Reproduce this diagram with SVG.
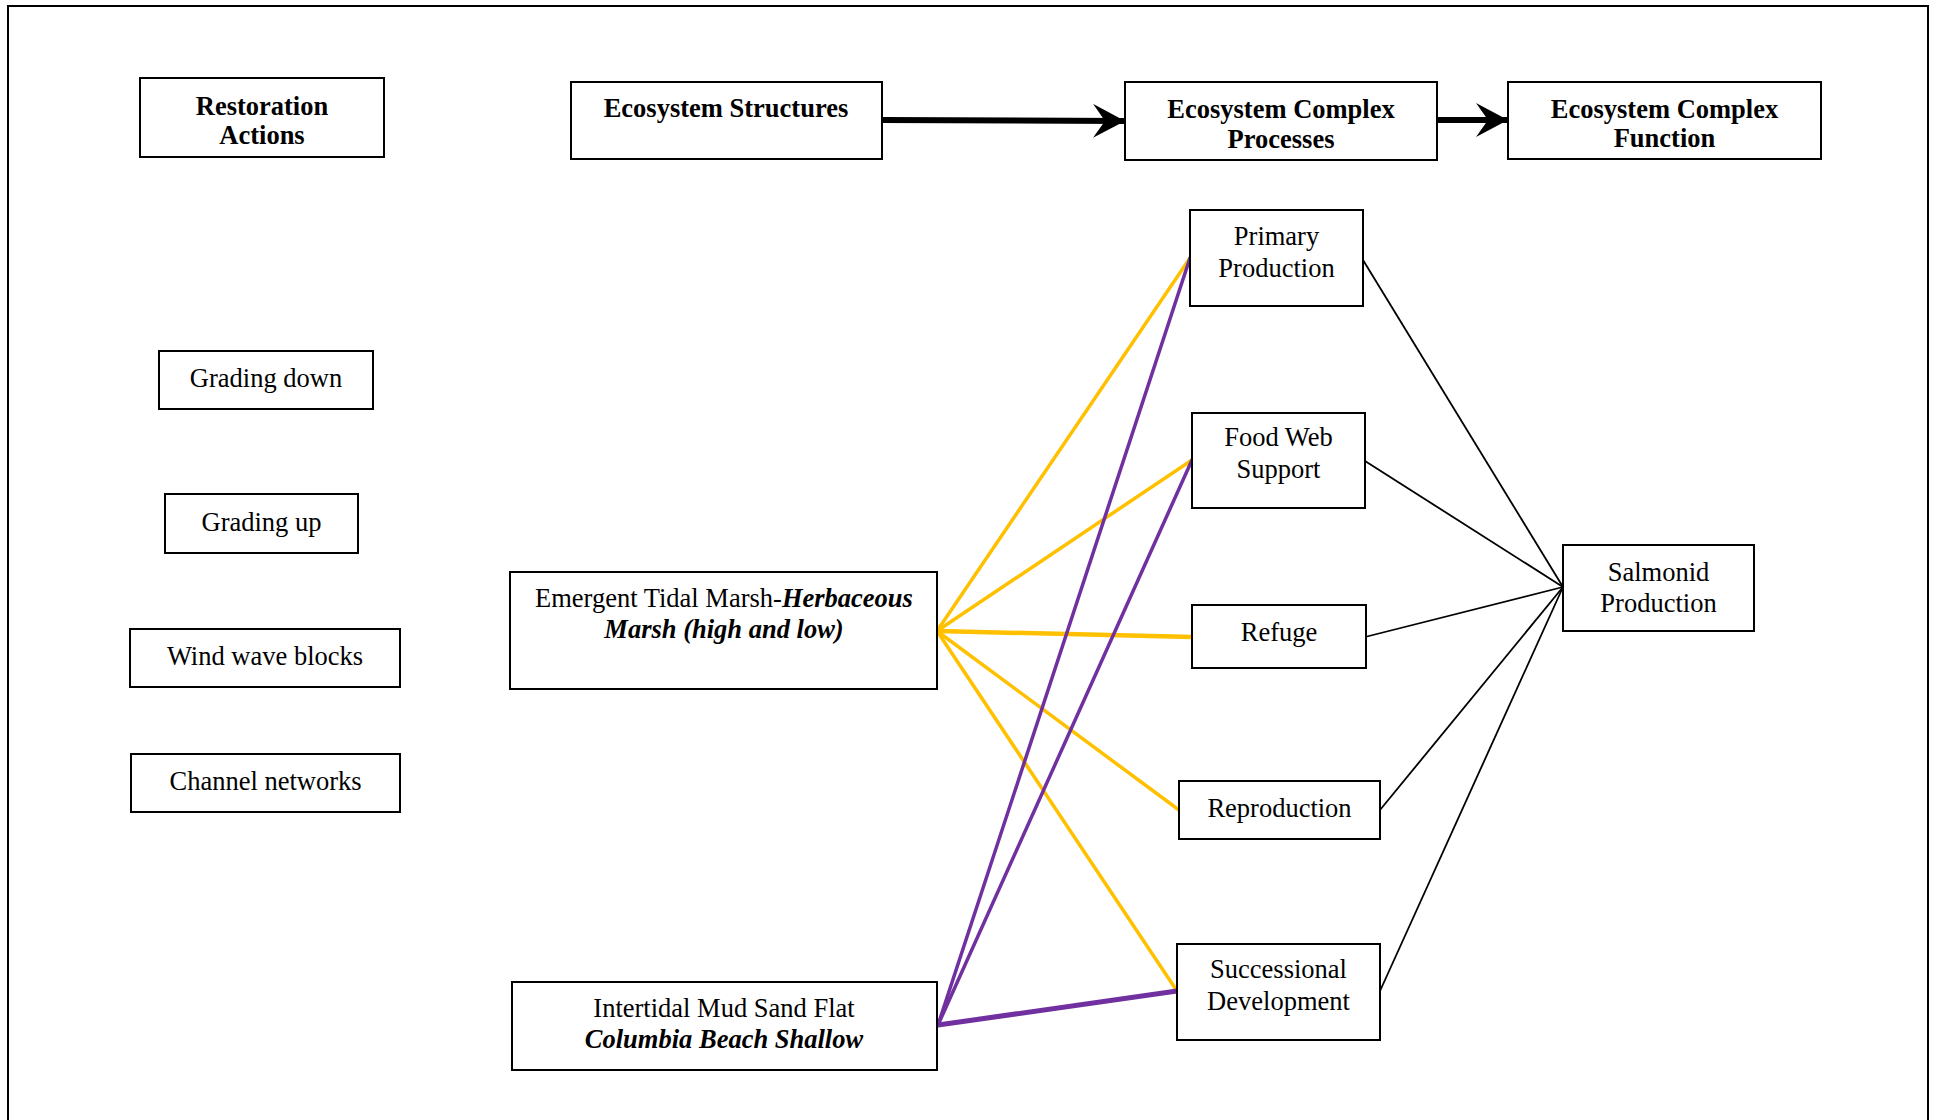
<svg xmlns="http://www.w3.org/2000/svg" width="1937" height="1120" viewBox="0 0 1937 1120">
<style>
  .box { fill: #ffffff; stroke: #000000; stroke-width: 2; }
  .t { font-family: "Liberation Serif", "Times New Roman", serif; font-size: 26.5px; fill: #000000; text-anchor: middle; }
  .b { font-weight: bold; }
  .bi { font-weight: bold; font-style: italic; }
  .yel { stroke: #FFC000; fill: none; stroke-linecap: round; }
  .pur { stroke: #7030A0; fill: none; stroke-linecap: round; }
  .blk { stroke: #000000; stroke-width: 1.8; fill: none; }
  .thick { stroke: #000000; stroke-width: 6; fill: none; }
</style>
<defs>
  <marker id="arrow" markerUnits="userSpaceOnUse" markerWidth="34" markerHeight="36" refX="32" refY="17" orient="auto" viewBox="0 0 34 36">
    <path d="M0,0 L32,17 L0,34 L12,17 Z" fill="#000000"/>
  </marker>
</defs>
<rect x="0" y="0" width="1937" height="1120" fill="#ffffff"/>
<rect x="8" y="6" width="1920" height="1130" fill="none" stroke="#000000" stroke-width="2"/>

<g id="connectors">
  <line class="thick" x1="882" y1="120" x2="1125" y2="121" marker-end="url(#arrow)"/>
  <line class="thick" x1="1437" y1="120" x2="1508" y2="120" marker-end="url(#arrow)"/>
  <line class="yel" stroke-width="3.5" x1="937" y1="631" x2="1190" y2="258"/>
  <line class="yel" stroke-width="3.5" x1="937" y1="631" x2="1192" y2="460"/>
  <line class="yel" stroke-width="4.5" x1="937" y1="631" x2="1192" y2="637"/>
  <line class="yel" stroke-width="3.5" x1="937" y1="631" x2="1179" y2="810"/>
  <line class="yel" stroke-width="3.5" x1="937" y1="631" x2="1177" y2="991"/>
  <line class="pur" stroke-width="3.5" x1="938" y1="1025" x2="1190" y2="258"/>
  <line class="pur" stroke-width="3.5" x1="938" y1="1025" x2="1192" y2="460"/>
  <line class="pur" stroke-width="5" x1="938" y1="1025" x2="1177" y2="991"/>
  <line class="blk" x1="1363" y1="260" x2="1563" y2="587"/>
  <line class="blk" x1="1365" y1="461" x2="1563" y2="587"/>
  <line class="blk" x1="1365" y1="637" x2="1563" y2="587"/>
  <line class="blk" x1="1380" y1="810" x2="1563" y2="587"/>
  <line class="blk" x1="1380" y1="991" x2="1563" y2="587"/>
</g>

<g id="restoration-actions">
  <rect class="box" x="140" y="78" width="244" height="79"/>
  <text class="t b" x="262" y="115">Restoration</text>
  <text class="t b" x="262" y="144">Actions</text>
</g>
<g id="ecosystem-structures">
  <rect class="box" x="571" y="82" width="311" height="77"/>
  <text class="t b" x="726" y="117">Ecosystem Structures</text>
</g>
<g id="ecosystem-complex-processes">
  <rect class="box" x="1125" y="82" width="312" height="78"/>
  <text class="t b" x="1281" y="118">Ecosystem Complex</text>
  <text class="t b" x="1281" y="148">Processes</text>
</g>
<g id="ecosystem-complex-function">
  <rect class="box" x="1508" y="82" width="313" height="77"/>
  <text class="t b" x="1664.5" y="118">Ecosystem Complex</text>
  <text class="t b" x="1664.5" y="147">Function</text>
</g>

<g id="grading-down">
  <rect class="box" x="159" y="351" width="214" height="58"/>
  <text class="t" x="266" y="387">Grading down</text>
</g>
<g id="grading-up">
  <rect class="box" x="165" y="494" width="193" height="59"/>
  <text class="t" x="261.5" y="531">Grading up</text>
</g>
<g id="wind-wave-blocks">
  <rect class="box" x="130" y="629" width="270" height="58"/>
  <text class="t" x="265" y="665">Wind wave blocks</text>
</g>
<g id="channel-networks">
  <rect class="box" x="131" y="754" width="269" height="58"/>
  <text class="t" x="265.5" y="790">Channel networks</text>
</g>

<g id="emergent-tidal-marsh">
  <rect class="box" x="510" y="572" width="427" height="117"/>
  <text class="t" x="724" y="607">Emergent Tidal Marsh-<tspan class="bi">Herbaceous</tspan></text>
  <text class="t bi" x="724" y="638">Marsh (high and low)</text>
</g>
<g id="intertidal-mud-sand-flat">
  <rect class="box" x="512" y="982" width="425" height="88"/>
  <text class="t" x="724" y="1017">Intertidal Mud Sand Flat</text>
  <text class="t bi" x="724" y="1048">Columbia Beach Shallow</text>
</g>

<g id="primary-production">
  <rect class="box" x="1190" y="210" width="173" height="96"/>
  <text class="t" x="1276.5" y="245">Primary</text>
  <text class="t" x="1276.5" y="277">Production</text>
</g>
<g id="food-web-support">
  <rect class="box" x="1192" y="413" width="173" height="95"/>
  <text class="t" x="1278.5" y="446">Food Web</text>
  <text class="t" x="1278.5" y="478">Support</text>
</g>
<g id="refuge">
  <rect class="box" x="1192" y="605" width="174" height="63"/>
  <text class="t" x="1279" y="641">Refuge</text>
</g>
<g id="reproduction">
  <rect class="box" x="1179" y="781" width="201" height="58"/>
  <text class="t" x="1279.5" y="817">Reproduction</text>
</g>
<g id="successional-development">
  <rect class="box" x="1177" y="944" width="203" height="96"/>
  <text class="t" x="1278.5" y="978">Successional</text>
  <text class="t" x="1278.5" y="1010">Development</text>
</g>
<g id="salmonid-production">
  <rect class="box" x="1563" y="545" width="191" height="86"/>
  <text class="t" x="1658.5" y="581">Salmonid</text>
  <text class="t" x="1658.5" y="612">Production</text>
</g>
</svg>
